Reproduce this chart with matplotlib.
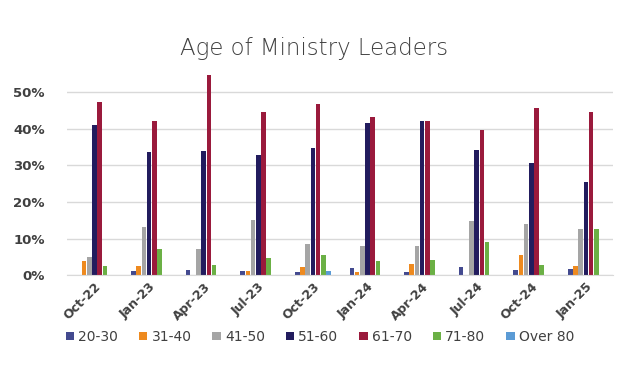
import numpy as np
import matplotlib.pyplot as plt
from matplotlib.ticker import PercentFormatter

# survey dates and age-group shares (percent)
dates = ['Oct-22', 'Jan-23', 'Apr-23', 'Jul-23', 'Oct-23',
         'Jan-24', 'Apr-24', 'Jul-24', 'Oct-24', 'Jan-25']
groups = ['20-30', '31-40', '41-50', '51-60', '61-70', '71-80', 'Over 80']

age_20_30 = [0.0, 1.2, 1.4, 1.2, 1.0, 1.9, 1.0, 2.2, 1.4, 1.7]
age_31_40 = [3.9, 2.4, 0.0, 1.2, 2.2, 1.0, 3.0, 0.0, 5.6, 2.6]
age_41_50 = [5.1, 13.3, 7.1, 15.1, 8.6, 8.1, 8.1, 14.7, 14.0, 12.7]
age_51_60 = [40.9, 33.6, 33.9, 32.9, 34.8, 41.5, 42.0, 34.1, 30.6, 25.5]
age_61_70 = [47.3, 42.2, 54.8, 44.6, 46.9, 43.3, 42.0, 39.8, 45.8, 44.6]
age_71_80 = [2.4, 7.1, 2.7, 4.6, 5.4, 3.9, 4.2, 9.1, 2.7, 12.7]
over_80 = [0.0, 0.0, 0.0, 0.0, 1.1, 0.0, 0.0, 0.0, 0.0, 0.0]

series = [age_20_30, age_31_40, age_41_50, age_51_60, age_61_70, age_71_80, over_80]
colors = ['#434a8f', '#ee8a1f', '#a5a5a5', '#221c5e', '#9a1a3c', '#6bb045', '#5b9bd5']

fig = plt.figure(figsize=(6.4, 3.73), dpi=100)
ax = fig.add_axes([0.105, 0.262, 0.853, 0.54])

x = np.arange(len(dates))
slot = 0.095
width = 0.085
for i, (vals, col, name) in enumerate(zip(series, colors, groups)):
    ax.bar(x + (i - 3) * slot, vals, width=width, color=col, label=name,
           linewidth=0)

ax.set_xlim(-0.5, len(dates) - 0.5)
ax.set_ylim(0, 55)
ax.set_yticks([0, 10, 20, 30, 40, 50])
ax.yaxis.set_major_formatter(PercentFormatter(decimals=0))
ax.grid(axis='y', color='#d9d9d9', linewidth=1)
ax.set_axisbelow(True)
for s in ['top', 'right', 'left']:
    ax.spines[s].set_visible(False)
ax.spines['bottom'].set_color('#d9d9d9')
ax.tick_params(axis='x', length=0, colors='#404040')
ax.tick_params(axis='y', length=0, colors='#404040', labelsize=9.5)

ax.set_xticks(x)
ax.set_xticklabels(dates, rotation=45, ha='right', rotation_mode='anchor',
                   fontsize=9, fontweight='bold', color='#404040')
# y labels placed by hand-offset: right edge ~22 px left of the axes
ax.set_yticklabels([f'{v}%' for v in ax.get_yticks().astype(int)],
                   fontweight='bold')
for t in ax.yaxis.get_major_ticks():
    t.set_pad(16)

fig.text(0.49, 0.87, 'Age of Ministry Leaders', ha='center', va='center',
         fontsize=16.5, color='#404040', fontweight='light')

fig.legend(loc='center', bbox_to_anchor=(0.5, 0.097), ncol=7, frameon=False,
           fontsize=10, handlelength=0.6, handleheight=0.6, handletextpad=0.3,
           columnspacing=1.5, labelcolor='#404040')

fig.savefig('out.png', dpi=100)
